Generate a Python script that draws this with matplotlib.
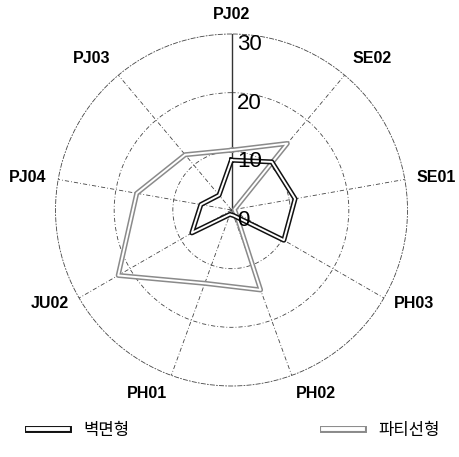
import numpy as np
import matplotlib
matplotlib.use("Agg")
import matplotlib.pyplot as plt
import matplotlib.patheffects as pe
from matplotlib.lines import Line2D

# categories clockwise from the top
categories = ['PJ02', 'SE02', 'SE01', 'PH03', 'PH02', 'PH01', 'JU02', 'PJ04', 'PJ03']
wall_values = [8.5, 10.7, 11.0, 10.3, 1.0, 0.8, 7.8, 5.3, 3.3]          # 벽면형
partition_values = [10.2, 14.8, 0.5, 0.8, 14.5, 13.3, 22.3, 16.4, 12.3]  # 파티선형
series_names = ['벽면형', '파티선형']
r_ticks = [0, 10, 20, 30]

W, H = 459, 457
fig = plt.figure(figsize=(W / 100, H / 100), dpi=100)
cx, cy, rad = 231.5, 210, 176
ax = fig.add_axes([(cx - rad) / W, (H - cy - rad) / H, 2 * rad / W, 2 * rad / H],
                  projection='polar')
ax.set_theta_zero_location('N')
ax.set_theta_direction(-1)
ax.set_ylim(0, 30)

n = len(categories)
angles = np.arange(n) * 2 * np.pi / n

# grid
dash = (0, (5, 2.5, 1, 2.5))
ax.set_xticks(angles)
ax.set_xticklabels([])
ax.set_yticks([10, 20])
ax.set_yticklabels([])
ax.grid(True, color='#444444', lw=0.6, linestyle=dash)
ax.spines['polar'].set_linestyle(dash)
ax.spines['polar'].set_color('#444444')
ax.spines['polar'].set_linewidth(0.6)
ax.tick_params(length=0)
ax.plot([0, 0], [0, 30], color='#333333', lw=1.0, zorder=2)


def hollow(edge, outer, inner):
    return dict(color='white', lw=inner,
                path_effects=[pe.Stroke(linewidth=outer, foreground=edge), pe.Normal()])


def hollow_line(vals, edge):
    th = np.append(angles, angles[0])
    rr = np.append(vals, vals[0])
    ax.plot(th, rr, zorder=3, **hollow(edge, 3.6, 1.4))


hollow_line(partition_values, '#8a8a8a')
hollow_line(wall_values, '#111111')

# radial tick labels
for v in r_ticks:
    ax.annotate(str(v), xy=(0, v), xytext=(4, 0), textcoords='offset points',
                ha='left', va='top', fontsize=16, family='Liberation Sans', zorder=5)

# category labels
for a, lab in zip(angles, categories):
    m = np.pi / 2 - a
    c, s = np.cos(m), np.sin(m)
    ha = 'left' if c > 0.3 else ('right' if c < -0.3 else 'center')
    va = 'bottom' if s > 0.55 else ('top' if s < -0.55 else 'center')
    ax.text(a, 32, lab, ha=ha, va=va, fontsize=11.5, fontweight='bold',
            family='Liberation Sans')

# legend with hollow-bar handles
h_wall = Line2D([], [], **hollow('#111111', 5.0, 2.8))
h_part = Line2D([], [], **hollow('#8a8a8a', 5.0, 2.8))
prop = {'family': ['Noto Sans CJK KR', 'DejaVu Sans'], 'size': 12}
fig.legend([h_wall], [series_names[0]], loc='center left',
           bbox_to_anchor=(28 / W, 1 - 430 / H), frameon=False,
           handlelength=2.4, handletextpad=0.9, borderpad=0,
           borderaxespad=0, prop=prop)
fig.legend([h_part], [series_names[1]], loc='center left',
           bbox_to_anchor=(323 / W, 1 - 430 / H), frameon=False,
           handlelength=2.4, handletextpad=0.9, borderpad=0,
           borderaxespad=0, prop=prop)

fig.savefig('out.png', dpi=100, facecolor='white')
